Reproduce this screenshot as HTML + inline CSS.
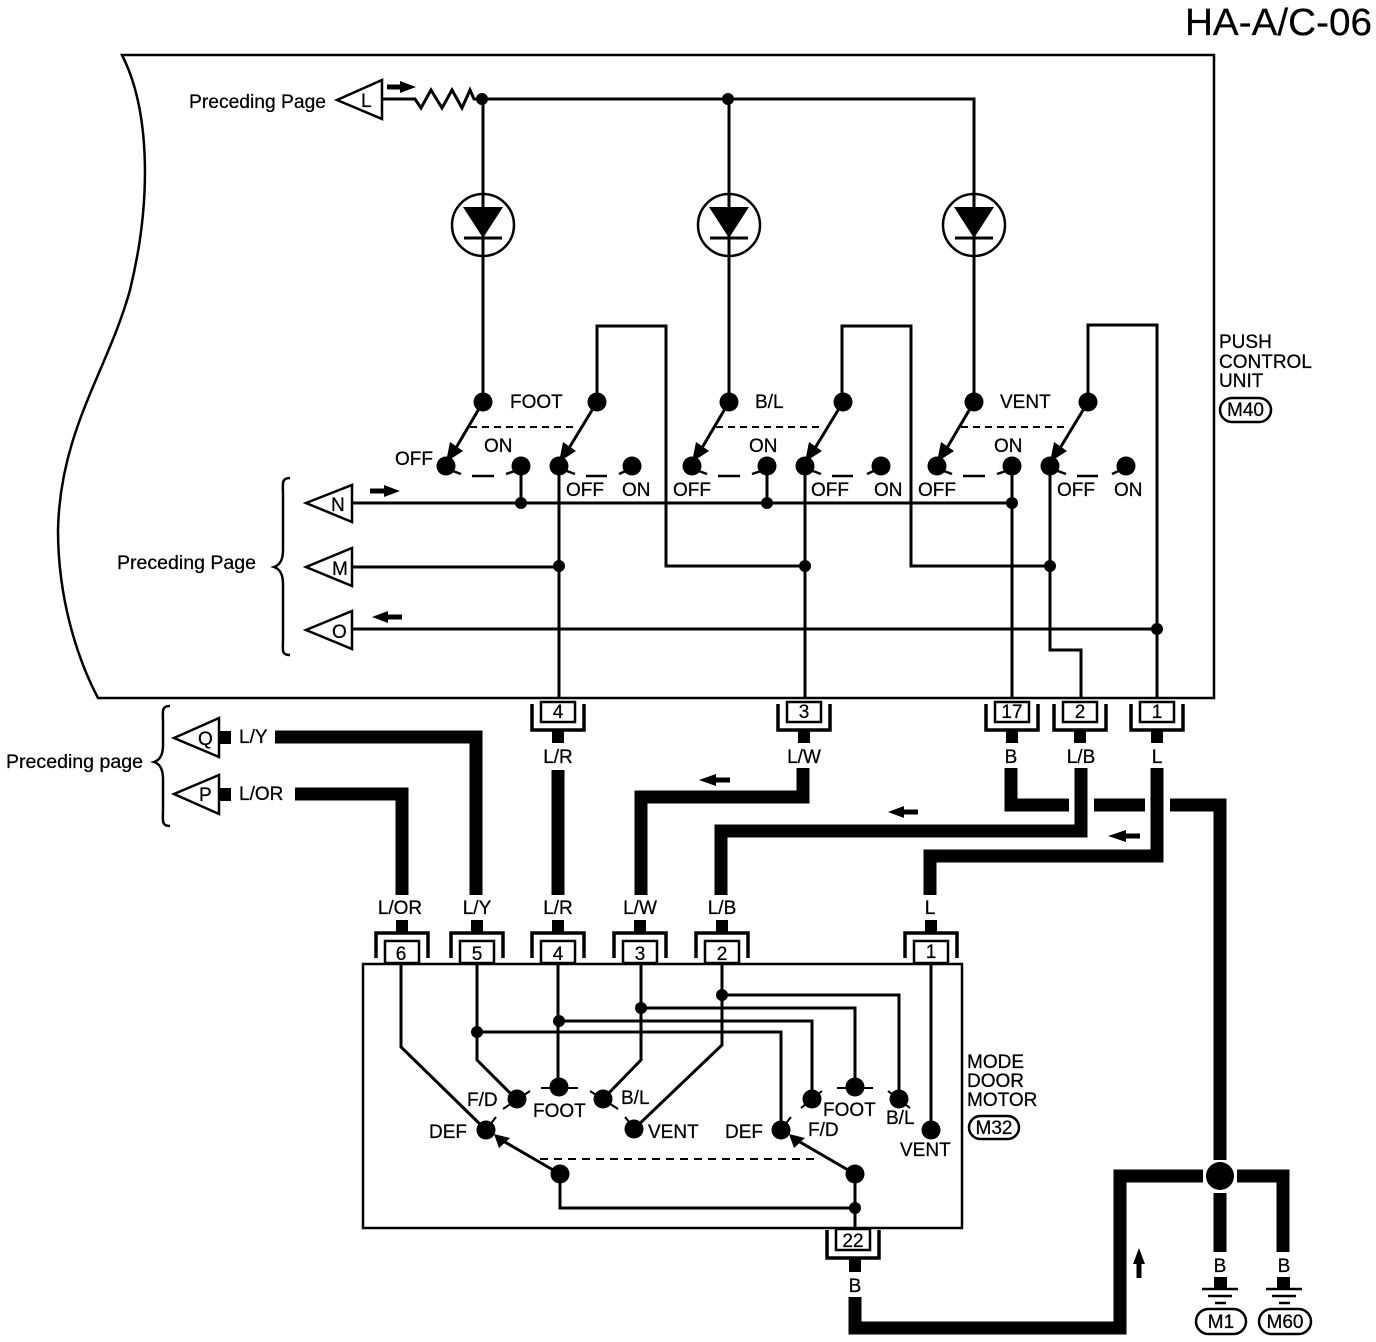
<!DOCTYPE html>
<html><head><meta charset="utf-8"><style>
html,body{margin:0;padding:0;background:#fff}
svg{display:block}
text{font-family:"Liberation Sans",sans-serif;font-size:19px;fill:#000;stroke:#000;stroke-width:.25}
.t{fill:none;stroke:#000;stroke-width:2.5}
.w{fill:none;stroke:#000;stroke-width:3;stroke-linejoin:miter}
.k{fill:none;stroke:#000;stroke-width:13;stroke-linejoin:miter}
.c{text-anchor:middle}
</style></head><body>
<svg width="1376" height="1342" viewBox="0 0 1376 1342" xmlns="http://www.w3.org/2000/svg">
<defs>
<g id="diode"><circle cx="0" cy="0" r="31" class="t" stroke-width="3"/><path d="M-20 -18H20L0 13Z" fill="#000"/><path d="M-19 13H19" class="w"/></g>
<g id="sw">
<circle cx="483" cy="402" r="9.5"/><circle cx="597" cy="402" r="9.5"/>
<path class="w" d="M483 402L450 458M597 402L563 458"/>
<path d="M446 462L450 442L463 451Z M559 462L563 442L576 451Z"/>
<path d="M470 427H575" fill="none" stroke="#000" stroke-width="2" stroke-dasharray="7 5"/>
<circle cx="446" cy="466" r="9.5"/><circle cx="521" cy="466" r="9.5"/>
<circle cx="559" cy="466" r="9.5"/>
<path d="M450 470L461 474M472 476H494M506 474L518 470M564 470L575 474M586 476H607" fill="none" stroke="#000" stroke-width="2.5"/>
</g>
<g id="topc"><path d="M-26 3V29H26V3" fill="none" stroke="#000" stroke-width="3.5"/><rect x="-17" y="1" width="34" height="20" fill="#fff" stroke="#000" stroke-width="2.5"/><rect x="-6" y="30" width="12" height="12"/></g>
<g id="botc"><rect x="-6" y="-12" width="12" height="12"/><path d="M-26 26V1H26V26" fill="none" stroke="#000" stroke-width="3.5"/><rect x="-17" y="9" width="34" height="22" fill="#fff" stroke="#000" stroke-width="2.5"/></g>
</defs>

<text x="1185" y="35" style="font-size:38px" textLength="187" lengthAdjust="spacingAndGlyphs">HA-A/C-06</text>

<!-- top unit -->
<path class="t" d="M122 55H1214V698H98C78 660 58 600 58 530C60 430 108 370 130 290C152 200 150 110 122 55Z"/>

<!-- top wires -->
<path class="w" d="M383 99H415L421 108L431 90L442 108L452 90L462 108L470 90L474 99H974V395M483 99V395M729 99V395"/>
<circle cx="482" cy="99" r="6"/><circle cx="728" cy="99" r="6"/>
<use href="#diode" x="483" y="225"/><use href="#diode" x="729" y="225"/><use href="#diode" x="974" y="225"/>

<use href="#sw"/><use href="#sw" x="246"/><use href="#sw" x="491"/>
<circle cx="632" cy="466" r="9.5"/><circle cx="881" cy="466" r="9.5"/><circle cx="1126" cy="466" r="9.5"/>
<path d="M619 474L630 469M867 474L878 469M1112 474L1123 469" fill="none" stroke="#000" stroke-width="2.5"/>

<path class="w" d="M597 402V326H666V566H805M842 402V326H911V566H1050M1088 402V325H1157V698"/>
<path class="w" d="M352 503H1012M352 567H559M352 629H1157"/>
<path class="w" d="M559 466V698M805 466V698M1012 466V698M1050 466V650H1081V698M521 466V503M767 466V503"/>
<circle cx="521" cy="503" r="6"/><circle cx="767" cy="503" r="6"/><circle cx="1012" cy="503" r="6"/>
<circle cx="559" cy="566" r="6"/><circle cx="805" cy="566" r="6"/><circle cx="1050" cy="566" r="6"/>
<circle cx="1157" cy="629" r="6"/>

<!-- triangles -->
<g fill="#fff" stroke="#000" stroke-width="2.5">
<path d="M337 100L382 80V119Z"/><path d="M306 503L352 485V522Z"/><path d="M306 567L352 548V586Z"/><path d="M306 630L352 611V649Z"/>
<path d="M174 738L219 718V757Z"/><path d="M174 794L219 775V814Z"/>
</g>
<text x="361" y="107">L</text><text x="331" y="511">N</text><text x="332" y="575">M</text><text x="332" y="638">O</text>
<text x="198" y="745">Q</text><text x="199" y="801">P</text>
<rect x="219" y="731" width="12" height="13"/><rect x="219" y="788" width="12" height="13"/>

<!-- braces -->
<path class="t" d="M290 478C281 478 283 484 283 495V550C283 560 280 565 274 567C280 569 283 574 283 584V640C283 650 281 655 290 655"/>
<path class="t" d="M170 706C161 706 163 712 163 722V745C163 755 160 760 154 762C160 764 163 769 163 779V810C163 820 161 826 170 826"/>

<!-- small arrows -->
<path d="M387 84.500H400V81L416 87L400 93V89.500H387Z"/>
<path d="M370 488.500H384V485L400 491L384 497V493.500H370Z"/>
<path d="M402 614.500H388V611L372 617L388 623V619.500H402Z"/>
<path d="M730 777.500H716V774L699 780L716 786V782.500H730Z"/>
<path d="M918 809.500H904V806L888 812L904 818V814.500H918Z"/>
<path d="M1140 833.500H1126V830L1108 836L1126 842V838.500H1140Z"/>
<path d="M1136.500 1278V1264H1133L1139 1248L1145 1264H1141.500V1278Z"/>

<!-- labels top -->
<text x="189" y="108" textLength="137" lengthAdjust="spacingAndGlyphs">Preceding Page</text>
<text x="117" y="569" textLength="139" lengthAdjust="spacingAndGlyphs">Preceding Page</text>
<text x="6" y="768" textLength="137" lengthAdjust="spacingAndGlyphs">Preceding page</text>
<text x="510" y="408">FOOT</text><text x="484" y="452">ON</text><text x="395" y="465">OFF</text><text x="566" y="496">OFF</text><text x="622" y="496">ON</text>
<text x="755" y="408">B/L</text><text x="749" y="452">ON</text><text x="673" y="496">OFF</text><text x="811" y="496">OFF</text><text x="874" y="496">ON</text>
<text x="1000" y="408">VENT</text><text x="994" y="452">ON</text><text x="918" y="496">OFF</text><text x="1057" y="496">OFF</text><text x="1114" y="496">ON</text>
<text x="1219" y="348">PUSH</text><text x="1219" y="368">CONTROL</text><text x="1219" y="387">UNIT</text>
<rect x="1220" y="398" width="51" height="24" rx="12" fill="#fff" stroke="#000" stroke-width="2.5"/><text x="1245.5" y="416" class="c">M40</text>

<!-- top connectors -->
<use href="#topc" x="558" y="701"/><use href="#topc" x="804" y="701"/><use href="#topc" x="1012" y="701"/><use href="#topc" x="1080" y="701"/><use href="#topc" x="1157" y="701"/>
<text x="558" y="718" class="c">4</text><text x="804" y="718" class="c">3</text><text x="1012" y="718" class="c">17</text><text x="1080" y="718" class="c">2</text><text x="1157" y="718" class="c">1</text>
<text x="558" y="763" class="c">L/R</text><text x="804" y="763" class="c">L/W</text><text x="1011" y="763" class="c">B</text><text x="1081" y="763" class="c">L/B</text><text x="1157" y="763" class="c">L</text>
<text x="239" y="743">L/Y</text><text x="239" y="800">L/OR</text>

<!-- thick wires -->
<path class="k" d="M275 737H476V895M295 794H402V895M558 770V895M803 768V797H641V895M1081 768V831H721V895M1157 768V856H930V895"/>
<path class="k" d="M1011 768V805H1069M1094 805H1145M1170 805H1220V1160"/>
<path class="k" d="M855 1297V1328H1120V1176H1203M1237 1176H1283V1252M1220 1193V1252"/>
<circle cx="1220" cy="1176" r="14"/>

<!-- lower labels -->
<text x="400" y="914" class="c">L/OR</text><text x="477" y="914" class="c">L/Y</text><text x="558" y="914" class="c">L/R</text><text x="640" y="914" class="c">L/W</text><text x="722" y="914" class="c">L/B</text><text x="930" y="914" class="c">L</text>

<!-- lower unit -->
<rect x="363" y="964" width="599" height="264" fill="none" stroke="#000" stroke-width="2.5"/>
<use href="#botc" x="402" y="932"/><use href="#botc" x="477" y="932"/><use href="#botc" x="558" y="932"/><use href="#botc" x="640" y="932"/><use href="#botc" x="722" y="932"/><use href="#botc" x="931" y="932"/>
<text x="401" y="960" class="c">6</text><text x="477" y="960" class="c">5</text><text x="558" y="960" class="c">4</text><text x="640" y="960" class="c">3</text><text x="722" y="960" class="c">2</text><text x="931" y="958" class="c">1</text>

<path class="w" d="M401 964V1047L486 1130M477 964V1060L517 1100M558 964V1087M641 964V1060L603 1099M722 964V1045L634 1129M931 964V1130"/>
<path class="w" d="M477 1032H781V1130M559 1021H812V1099M641 1008H855V1087M722 995H899V1099"/>
<circle cx="477" cy="1032" r="6"/><circle cx="559" cy="1021" r="6"/><circle cx="641" cy="1008" r="6"/><circle cx="722" cy="995" r="6"/>
<circle cx="517" cy="1099" r="9.5"/><circle cx="559" cy="1087" r="9.5"/><circle cx="603" cy="1099" r="9.5"/><circle cx="634" cy="1129" r="9.5"/><circle cx="486" cy="1130" r="9.5"/>
<circle cx="781" cy="1130" r="9.5"/><circle cx="812" cy="1099" r="9.5"/><circle cx="855" cy="1087" r="9.5"/><circle cx="899" cy="1099" r="9.5"/><circle cx="931" cy="1130" r="9.5"/>
<path d="M503 1109L530 1091M541 1088H578M590 1091L618 1109M625 1117L634 1128M486 1130L496 1117M779 1132L791 1117M801 1108L822 1091M837 1088H873M888 1091L910 1108" fill="none" stroke="#000" stroke-width="2"/>
<path class="w" d="M560 1174L498 1138M855 1174L793 1138M560 1174V1208H855M855 1174V1228"/>
<path d="M494 1134L510 1138L499 1148Z M789 1134L805 1138L794 1148Z"/>
<path d="M540 1159H815" fill="none" stroke="#000" stroke-width="2" stroke-dasharray="8 6"/>
<circle cx="560" cy="1174" r="9.5"/><circle cx="855" cy="1174" r="9.5"/><circle cx="855" cy="1208" r="6"/>

<text x="467" y="1106">F/D</text><text x="533" y="1117">FOOT</text><text x="621" y="1104">B/L</text><text x="648" y="1138">VENT</text><text x="429" y="1138">DEF</text>
<text x="725" y="1138">DEF</text><text x="808" y="1136">F/D</text><text x="823" y="1116">FOOT</text><text x="886" y="1124">B/L</text><text x="900" y="1156">VENT</text>
<text x="967" y="1068">MODE</text><text x="967" y="1087">DOOR</text><text x="967" y="1106">MOTOR</text>
<rect x="969" y="1116" width="50" height="23" rx="11.5" fill="#fff" stroke="#000" stroke-width="2.5"/><text x="994" y="1134" class="c">M32</text>

<!-- connector 22 -->
<path d="M827 1230V1258H879V1230" fill="none" stroke="#000" stroke-width="3.5"/>
<rect x="836" y="1229" width="34" height="21" fill="#fff" stroke="#000" stroke-width="2.5"/>
<text x="853" y="1247" class="c">22</text>
<rect x="849" y="1259" width="12" height="13"/>
<text x="855" y="1292" class="c">B</text>

<!-- grounds -->
<text x="1220" y="1272" class="c">B</text><text x="1284" y="1272" class="c">B</text>
<rect x="1214" y="1277" width="13" height="12"/><rect x="1277" y="1277" width="13" height="12"/>
<path d="M1202 1289H1238M1208 1296H1232M1215 1303H1226M1266 1289H1302M1272 1296H1296M1279 1303H1290" fill="none" stroke="#000" stroke-width="2.5"/>
<rect x="1196" y="1309" width="50" height="25" rx="12.5" fill="#fff" stroke="#000" stroke-width="2.5"/><text x="1221" y="1328" class="c">M1</text>
<rect x="1259" y="1309" width="52" height="25" rx="12.5" fill="#fff" stroke="#000" stroke-width="2.5"/><text x="1285" y="1328" class="c">M60</text>
</svg>
</body></html>
